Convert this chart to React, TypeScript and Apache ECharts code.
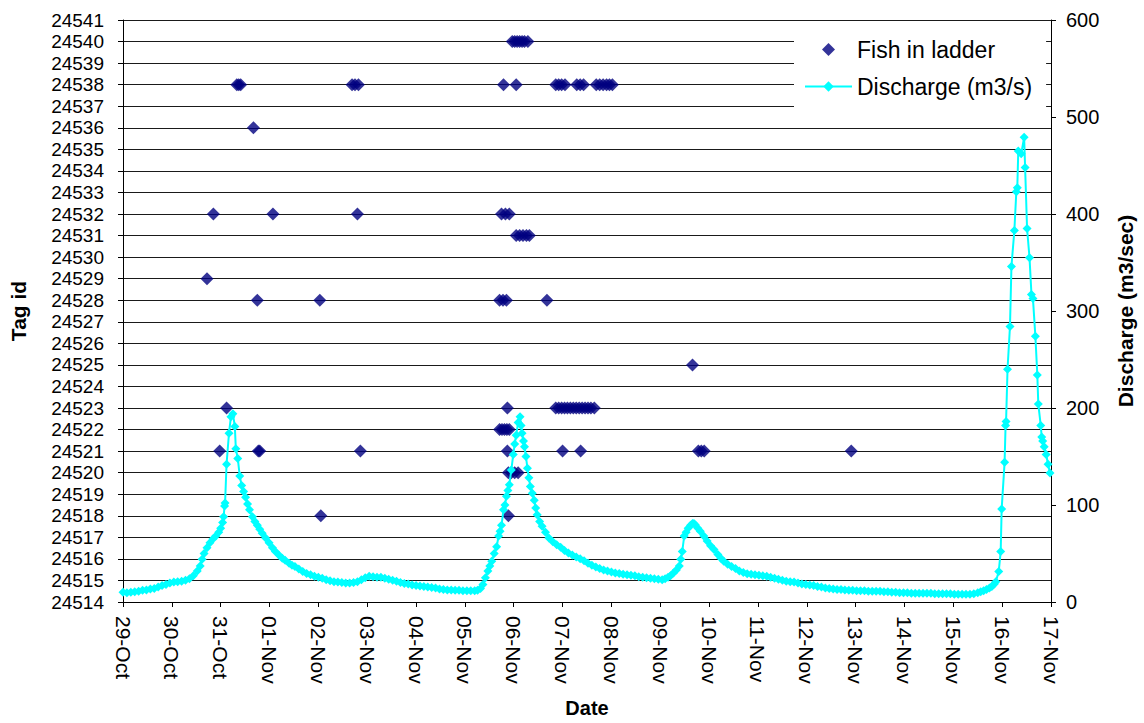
import React, { useEffect, useRef } from "react";
import * as echarts from "echarts";

const dateLabels = [
  "29-Oct", "30-Oct", "31-Oct", "01-Nov", "02-Nov", "03-Nov", "04-Nov",
  "05-Nov", "06-Nov", "07-Nov", "08-Nov", "09-Nov", "10-Nov", "11-Nov",
  "12-Nov", "13-Nov", "14-Nov", "15-Nov", "16-Nov", "17-Nov",
];

// Fish detections: day offset from 29-Oct 00:00 and tag id
const fishDays = [
  7.97, 8.02, 8.07, 8.12, 8.17, 8.22, 8.29,
  2.33, 2.37, 2.41, 4.69, 4.75, 4.82, 7.79, 8.05, 8.86, 8.92, 8.98, 9.05,
  9.29, 9.36, 9.43, 9.69, 9.76, 9.83, 9.9, 9.96, 10.02,
  2.67,
  1.85, 3.07, 4.8, 7.75, 7.83, 7.91,
  8.05, 8.12, 8.19, 8.26, 8.32,
  1.72,
  2.75, 4.03, 7.71, 7.78, 7.85, 8.68,
  11.66,
  2.12, 7.87, 8.86, 8.92, 8.98, 9.04, 9.1, 9.16, 9.22, 9.28, 9.34, 9.4, 9.46, 9.52, 9.58, 9.65,
  7.71, 7.76, 7.81, 7.86, 7.91,
  1.98, 2.77, 2.8, 4.86, 7.87, 9.0, 9.37, 11.78, 11.84, 11.9, 14.91,
  7.89, 7.95, 8.02, 8.09,
  4.05, 7.89,
];
const fishTags = [
  24540, 24540, 24540, 24540, 24540, 24540, 24540,
  24538, 24538, 24538, 24538, 24538, 24538, 24538, 24538, 24538, 24538, 24538, 24538,
  24538, 24538, 24538, 24538, 24538, 24538, 24538, 24538, 24538,
  24536,
  24532, 24532, 24532, 24532, 24532, 24532,
  24531, 24531, 24531, 24531, 24531,
  24529,
  24528, 24528, 24528, 24528, 24528, 24528,
  24525,
  24523, 24523, 24523, 24523, 24523, 24523, 24523, 24523, 24523, 24523, 24523, 24523, 24523, 24523, 24523, 24523,
  24522, 24522, 24522, 24522, 24522,
  24521, 24521, 24521, 24521, 24521, 24521, 24521, 24521, 24521, 24521, 24521,
  24520, 24520, 24520, 24520,
  24518, 24518,
];

// Discharge (m3/s): day offset from 29-Oct and value
const dischargeDays = [
  0.0, 0.08, 0.16, 0.24, 0.32, 0.4, 0.48, 0.56, 0.64, 0.72, 0.8, 0.88, 0.96, 1.04, 1.12, 1.2, 1.28, 1.36, 1.44, 1.52,
  1.58, 1.62, 1.66, 1.72, 1.78, 1.84, 1.9, 1.96, 2.0, 2.04, 2.06, 2.08, 2.09, 2.12, 2.17, 2.21, 2.25, 2.29, 2.31, 2.35,
  2.39, 2.43, 2.47, 2.51, 2.55, 2.59, 2.65, 2.7, 2.75, 2.8, 2.85, 2.92, 2.99, 3.06, 3.12, 3.2, 3.26, 3.32, 3.4, 3.46,
  3.52, 3.6, 3.68, 3.76, 3.84, 3.92, 4.0, 4.08, 4.16, 4.24, 4.32, 4.4, 4.48, 4.56, 4.64, 4.72, 4.8, 4.88, 4.96, 5.04,
  5.12, 5.2, 5.28, 5.36, 5.44, 5.52, 5.6, 5.68, 5.76, 5.84, 5.92, 6.0, 6.08, 6.16, 6.24, 6.32, 6.4, 6.48, 6.56, 6.64,
  6.72, 6.8, 6.88, 6.96, 7.04, 7.12, 7.2, 7.26, 7.32, 7.37, 7.42, 7.47, 7.51, 7.55, 7.6, 7.65, 7.69, 7.72, 7.75, 7.79,
  7.82, 7.85, 7.88, 7.91, 7.95, 7.99, 8.02, 8.05, 8.09, 8.13, 8.15, 8.17, 8.2, 8.22, 8.25, 8.28, 8.31, 8.34, 8.38, 8.42,
  8.45, 8.48, 8.53, 8.58, 8.65, 8.72, 8.8, 8.88, 8.96, 9.04, 9.12, 9.2, 9.28, 9.36, 9.44, 9.52, 9.6, 9.68, 9.76, 9.84,
  9.92, 10.0, 10.08, 10.16, 10.24, 10.32, 10.4, 10.48, 10.56, 10.64, 10.72, 10.8, 10.88, 10.96, 11.04, 11.1, 11.16, 11.21, 11.27, 11.33,
  11.39, 11.42, 11.45, 11.49, 11.53, 11.57, 11.62, 11.66, 11.69, 11.72, 11.77, 11.82, 11.89, 11.96, 12.03, 12.1, 12.18, 12.24, 12.3, 12.38,
  12.46, 12.54, 12.62, 12.7, 12.78, 12.86, 12.94, 13.02, 13.1, 13.18, 13.26, 13.34, 13.42, 13.5, 13.58, 13.66, 13.74, 13.82, 13.9, 13.98,
  14.06, 14.14, 14.22, 14.3, 14.38, 14.46, 14.54, 14.62, 14.7, 14.78, 14.86, 14.94, 15.02, 15.1, 15.18, 15.26, 15.34, 15.42, 15.5, 15.58,
  15.66, 15.74, 15.82, 15.9, 15.98, 16.06, 16.14, 16.22, 16.3, 16.38, 16.46, 16.54, 16.62, 16.7, 16.78, 16.86, 16.94, 17.02, 17.1, 17.18,
  17.26, 17.34, 17.42, 17.5, 17.56, 17.62, 17.68, 17.74, 17.79, 17.84, 17.87, 17.93, 17.97, 17.99, 18.05, 18.07, 18.08, 18.11, 18.16, 18.19,
  18.25, 18.29, 18.31, 18.33, 18.39, 18.45, 18.47, 18.51, 18.56, 18.6, 18.63, 18.68, 18.72, 18.74, 18.79, 18.81, 18.83, 18.86, 18.9, 18.94,
  18.98,
];
const dischargeValues = [
  10, 9.5, 10, 10.5, 11, 12, 12.5, 13.5, 14, 15.5, 17, 18, 19.5, 20.5, 21, 21.5, 22.5, 24, 27, 32,
  37, 44, 50, 56, 61, 65, 68, 72, 76, 82, 88, 99, 102, 142, 174, 191, 194, 181, 158, 148,
  130, 120, 114, 108, 101, 95, 88, 83, 79, 75, 71, 66, 61, 56, 52, 48, 45, 43, 40, 38,
  36.5, 34, 31.5, 29.5, 28, 26.5, 25.5, 24.5, 23, 22, 21, 20.5, 20, 19.5, 19.5, 20, 21, 23, 25, 26.5,
  26, 25.5, 25.5, 24.5, 23.5, 22.5, 21.5, 20, 19, 18.5, 17.5, 17, 16.5, 16, 15.5, 15, 14.5, 13.5, 13, 12.5,
  12.5, 12, 12, 11.5, 11.5, 11.5, 11.5, 12, 14, 18, 25, 32, 37, 42, 50, 57, 68, 73, 79, 95,
  100, 109, 115, 121, 136, 152, 163, 172, 185, 191, 182, 174, 166, 160, 150, 138, 128, 119, 112, 105,
  97, 90, 83, 78, 72, 66, 62, 59, 56.5, 53, 50.5, 48.5, 46.5, 44.5, 42.5, 40, 38, 36, 34.5, 33,
  32, 31, 30, 29.5, 28.5, 28, 27.5, 27, 26, 25.5, 25, 24.5, 24, 23.5, 23, 24, 25.5, 27, 30, 33,
  37, 44, 52, 68, 72, 76, 79, 81, 81, 79.5, 76, 73, 68, 63, 58, 54, 49, 45, 42, 39,
  36.5, 34.5, 32, 30.5, 29, 28.5, 28, 27.5, 27, 26.5, 25.5, 24.5, 23.5, 22.5, 21.5, 21, 20.5, 19.5, 18.5, 18,
  17.5, 17, 16, 15.5, 14.5, 14, 13.5, 13, 13, 12.5, 12, 12, 11.5, 11.5, 11.5, 11, 11, 11, 11, 10.5,
  10.5, 10, 10, 9.5, 9.5, 9.5, 9, 9, 9, 9, 9, 9, 8.5, 8.5, 8.5, 8.5, 8.5, 8, 8, 8,
  8, 8, 8.5, 9.5, 10.5, 11.5, 13, 14.5, 16, 18.5, 21, 31.5, 52, 96, 144, 182, 186, 240, 284, 346,
  383, 423, 427, 465, 462, 479, 448, 385, 355, 317, 313, 274, 234, 204, 182, 170, 166, 160, 152, 142,
  133,
];

const tagMin = 24514;
const tagMax = 24541;
const dischargeMax = 600;

const FONT = "'Liberation Sans', Arial, sans-serif";

export default function App() {
  const ref = useRef<HTMLDivElement>(null);

  useEffect(() => {
    if (!ref.current) return;
    const chart = echarts.init(ref.current, undefined, { renderer: "svg" });
    const fishData = fishDays.map((d, i) => [d, fishTags[i]]);
    const dischargeData = dischargeDays.map((d, i) => [d, dischargeValues[i]]);

    chart.setOption({
      animation: false,
      backgroundColor: "#fff",
      textStyle: { fontFamily: FONT },
      grid: { left: 119, right: 87, top: 20, bottom: 119, containLabel: false },
      legend: {
        data: [
          { name: "Fish in ladder", icon: "path://M0,-1L1,0L0,1L-1,0Z" },
          { name: "Discharge (m3/s)" },
        ],
        orient: "vertical",
        left: 794,
        top: 21,
        backgroundColor: "#fff",
        padding: [17, 14, 9, 10],
        itemWidth: 47,
        itemHeight: 13,
        itemGap: 14,
        symbolKeepAspect: true,
        textStyle: { fontSize: 23, color: "#000", fontFamily: FONT },
        z: 10,
      },
      xAxis: {
        type: "value",
        min: 0,
        max: dateLabels.length - 1,
        interval: 1,
        name: "Date",
        nameLocation: "middle",
        nameGap: 96,
        nameTextStyle: { fontSize: 20, fontWeight: "bold", color: "#000", fontFamily: FONT },
        axisLine: { show: true, onZero: false, lineStyle: { color: "#000", width: 1 } },
        axisTick: { show: true, length: 5, lineStyle: { color: "#000" } },
        axisLabel: {
          rotate: -90,
          margin: 14,
          fontSize: 21,
          color: "#000",
          fontFamily: FONT,
          formatter: (v: number) => dateLabels[Math.round(v)] ?? "",
        },
        splitLine: { show: false },
      },
      yAxis: [
        {
          type: "value",
          min: tagMin,
          max: tagMax,
          interval: 1,
          position: "left",
          name: "Tag id",
          nameLocation: "middle",
          nameGap: 94,
          nameTextStyle: { fontSize: 21, fontWeight: "bold", color: "#000", fontFamily: FONT },
          axisLine: { show: true, lineStyle: { color: "#000", width: 1 } },
          axisTick: { show: true, length: 5, lineStyle: { color: "#000" } },
          axisLabel: {
            margin: 19,
            fontSize: 19,
            color: "#000",
            fontFamily: FONT,
            formatter: (v: number) => String(v),
          },
          splitLine: { show: true, lineStyle: { color: "#1a1a1a", width: 1 } },
        },
        {
          type: "value",
          min: 0,
          max: dischargeMax,
          interval: 100,
          position: "right",
          name: "Discharge (m3/sec)",
          nameLocation: "middle",
          nameGap: 64,
          nameRotate: 90,
          nameTextStyle: { fontSize: 21, fontWeight: "bold", color: "#000", fontFamily: FONT },
          axisLine: { show: true, lineStyle: { color: "#000", width: 1 } },
          axisTick: { show: true, length: 5, lineStyle: { color: "#000" } },
          axisLabel: {
            margin: 15,
            fontSize: 20,
            color: "#000",
            fontFamily: FONT,
            formatter: (v: number) => String(v),
          },
          splitLine: { show: false },
        },
      ],
      series: [
        {
          name: "Fish in ladder",
          type: "scatter",
          yAxisIndex: 0,
          symbol: "diamond",
          symbolSize: 13,
          itemStyle: { color: "#000080" },
          data: fishData,
          z: 3,
        },
        {
          name: "Discharge (m3/s)",
          type: "line",
          yAxisIndex: 1,
          symbol: "diamond",
          symbolSize: 9,
          showAllSymbol: true,
          itemStyle: { color: "#00FFFF" },
          lineStyle: { color: "#00FFFF", width: 2 },
          data: dischargeData,
          z: 4,
        },
      ],
    });

    return () => chart.dispose();
  }, []);

  return (
    <div
      ref={ref}
      style={{ position: "absolute", left: 0, top: 0, width: 1144, height: 723 }}
    />
  );
}
